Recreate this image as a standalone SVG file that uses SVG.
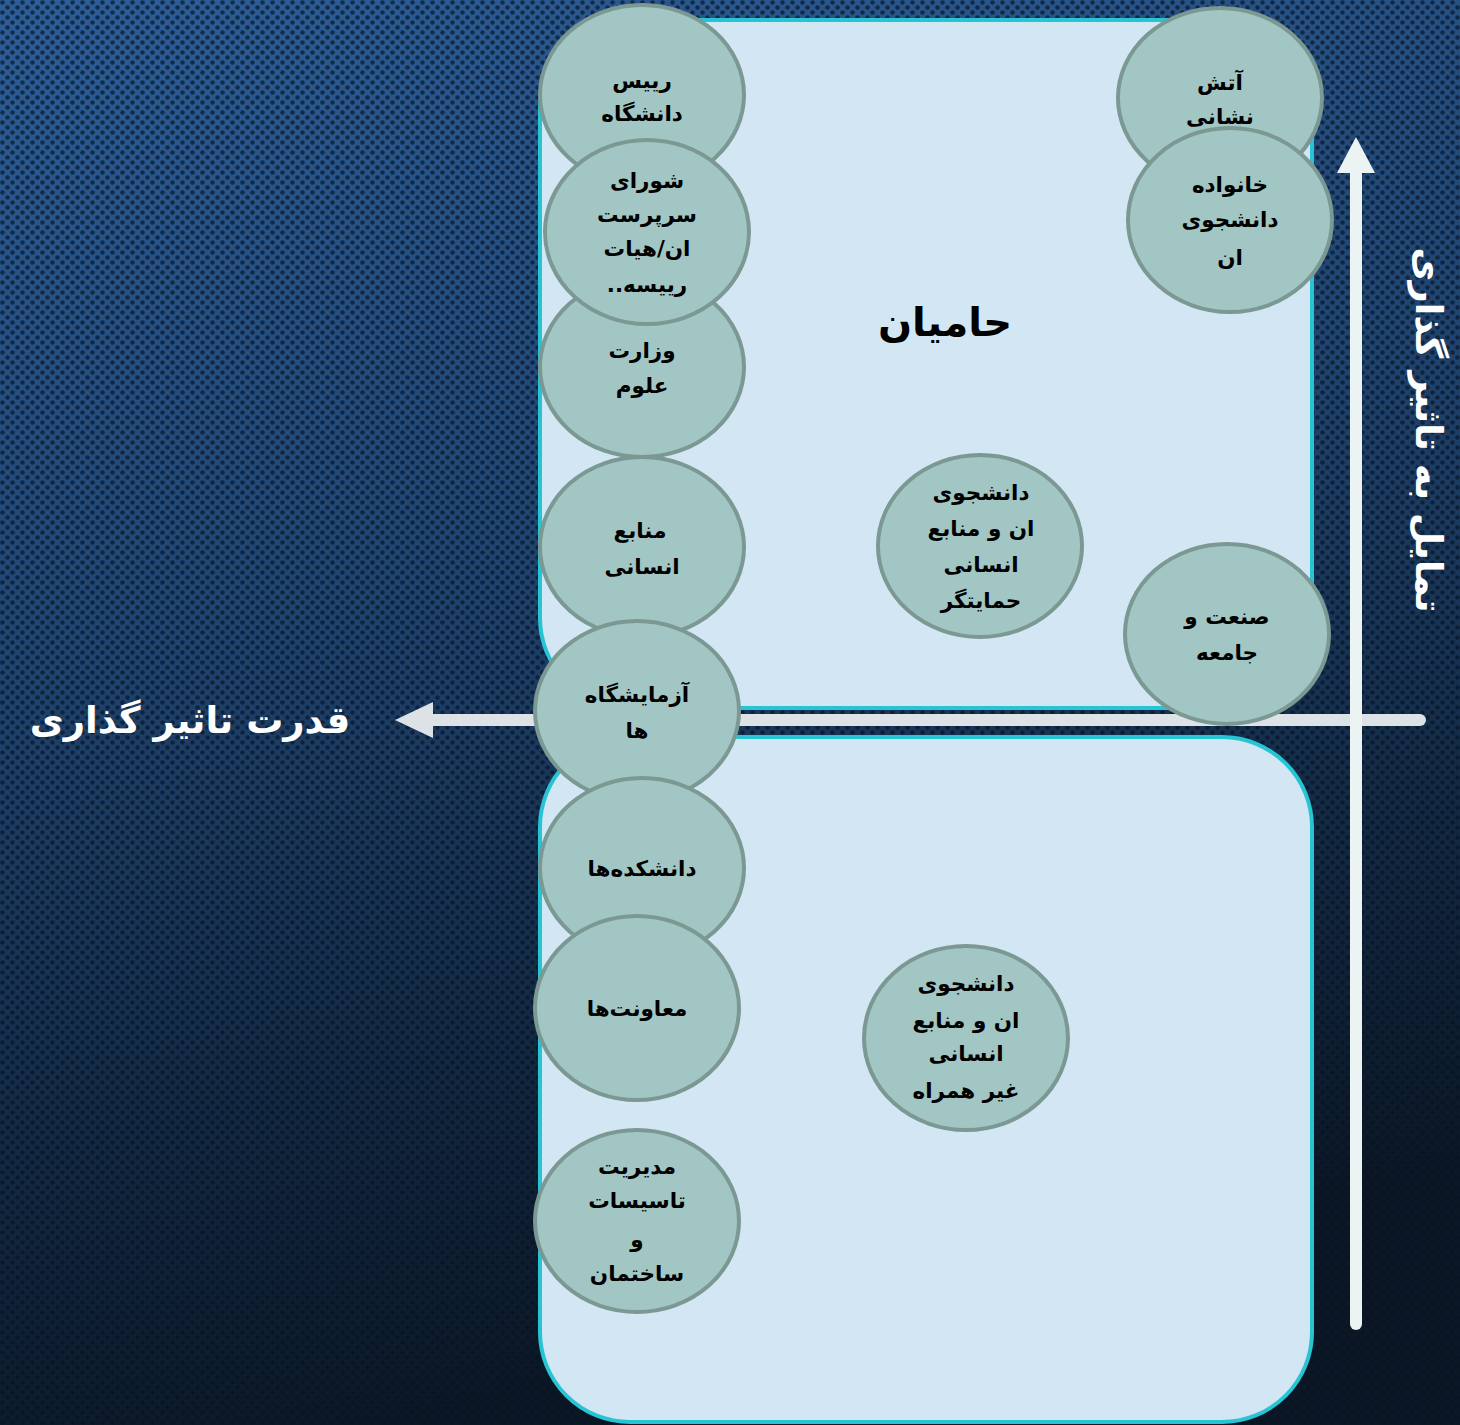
<svg xmlns="http://www.w3.org/2000/svg" width="1460" height="1425" viewBox="0 0 1460 1425">
  <defs>
    <linearGradient id="bg" x1="0" y1="0" x2="0.25" y2="1">
      <stop offset="0" stop-color="#2c5e98"/>
      <stop offset="0.45" stop-color="#1f4470"/>
      <stop offset="0.75" stop-color="#132a45"/>
      <stop offset="1" stop-color="#0b1725"/>
    </linearGradient>
    <pattern id="dots" width="10" height="10" patternUnits="userSpaceOnUse">
      <circle cx="2.5" cy="2.5" r="2.3" fill="#061224" fill-opacity="0.65"/>
      <circle cx="7.5" cy="7.5" r="2.3" fill="#061224" fill-opacity="0.65"/>
    </pattern>
    <style>
      .panel { fill: #d3e6f4; stroke: #27c4d4; stroke-width: 4; }
      .node { fill: #a2c6c4; stroke: #7b9893; stroke-width: 4; }
      .lbl { font-family: "DejaVu Sans", "Noto Sans", sans-serif; font-weight: bold; font-size: 21.5px; fill: #000; text-anchor: middle; }
      .title { font-family: "DejaVu Sans", "Noto Sans", sans-serif; font-weight: bold; font-size: 40px; fill: #000; text-anchor: middle; }
      .axis { font-family: "DejaVu Sans", "Noto Sans", sans-serif; font-weight: bold; font-size: 37px; fill: #ffffff; text-anchor: middle; }
    </style>
  </defs>

  <g id="background">
    <rect x="0" y="0" width="1460" height="1425" fill="url(#bg)"/>
    <rect x="0" y="0" width="1460" height="1425" fill="url(#dots)"/>
  </g>

  <g id="panel-top">
    <rect class="panel" x="540" y="20" width="772" height="688" rx="90" ry="90"/>
  </g>
  <g id="panel-bottom">
    <rect class="panel" x="540" y="737" width="772" height="685" rx="90" ry="90"/>
  </g>

  <g id="connectors">
    <line x1="1420" y1="720" x2="428" y2="720" stroke="#dde2e7" stroke-width="12" stroke-linecap="round"/>
    <polygon points="395,720 433,702 433,738" fill="#dde2e7"/>
    <line x1="1356" y1="1324" x2="1356" y2="168" stroke="#ecf3f3" stroke-width="12" stroke-linecap="round"/>
    <polygon points="1356,137 1337,173 1375,173" fill="#ecf3f3"/>
  </g>

  <g id="n-raees">
    <ellipse class="node" cx="642" cy="95" rx="102" ry="90"/>
    <text class="lbl" x="642" y="88">رییس</text>
    <text class="lbl" x="642" y="121">دانشگاه</text>
  </g>
  <g id="n-vezarat">
    <ellipse class="node" cx="642" cy="367" rx="102" ry="90"/>
    <text class="lbl" x="642" y="358">وزارت</text>
    <text class="lbl" x="642" y="393">علوم</text>
  </g>
  <g id="n-shora">
    <ellipse class="node" cx="647" cy="232" rx="102" ry="92"/>
    <text class="lbl" x="647" y="188">شورای</text>
    <text class="lbl" x="647" y="222">سرپرست</text>
    <text class="lbl" x="647" y="256" direction="rtl">ان/هیات</text>
    <text class="lbl" x="647" y="292" direction="rtl">رییسه..‏</text>
  </g>
  <g id="n-manabe">
    <ellipse class="node" cx="642" cy="547" rx="102" ry="90"/>
    <text class="lbl" x="640" y="538">منابع</text>
    <text class="lbl" x="642" y="574">انسانی</text>
  </g>
  <g id="n-azmayeshgah">
    <ellipse class="node" cx="637" cy="711" rx="102" ry="90"/>
    <text class="lbl" x="637" y="702">آزمایشگاه</text>
    <text class="lbl" x="637" y="738">ها</text>
  </g>
  <g id="n-daneshkade">
    <ellipse class="node" cx="642" cy="868" rx="102" ry="90"/>
    <text class="lbl" x="642" y="876">دانشکده‌ها</text>
  </g>
  <g id="n-moavenat">
    <ellipse class="node" cx="637" cy="1008" rx="102" ry="92"/>
    <text class="lbl" x="637" y="1016">معاونت‌ها</text>
  </g>
  <g id="n-modiriat">
    <ellipse class="node" cx="637" cy="1221" rx="102" ry="91"/>
    <text class="lbl" x="637" y="1174">مدیریت</text>
    <text class="lbl" x="637" y="1208">تاسیسات</text>
    <text class="lbl" x="637" y="1247">و</text>
    <text class="lbl" x="637" y="1281">ساختمان</text>
  </g>

  <g id="t-hamian">
    <text class="title" x="945" y="336">حامیان</text>
  </g>

  <g id="n-hemayatgar">
    <ellipse class="node" cx="980" cy="546" rx="102" ry="91"/>
    <text class="lbl" x="981" y="500">دانشجوی</text>
    <text class="lbl" x="981" y="536" direction="rtl">ان و منابع</text>
    <text class="lbl" x="981" y="572">انسانی</text>
    <text class="lbl" x="981" y="608">حمایتگر</text>
  </g>
  <g id="n-gheirhamrah">
    <ellipse class="node" cx="966" cy="1038" rx="102" ry="92"/>
    <text class="lbl" x="966" y="991">دانشجوی</text>
    <text class="lbl" x="966" y="1028" direction="rtl">ان و منابع</text>
    <text class="lbl" x="966" y="1061">انسانی</text>
    <text class="lbl" x="966" y="1098" direction="rtl">غیر همراه</text>
  </g>

  <g id="n-atashneshani">
    <ellipse class="node" cx="1220" cy="98" rx="102" ry="90"/>
    <text class="lbl" x="1220" y="90">آتش</text>
    <text class="lbl" x="1220" y="124">نشانی</text>
  </g>
  <g id="n-khanevade">
    <ellipse class="node" cx="1230" cy="220" rx="102" ry="92"/>
    <text class="lbl" x="1230" y="192">خانواده</text>
    <text class="lbl" x="1230" y="227">دانشجوی</text>
    <text class="lbl" x="1230" y="265">ان</text>
  </g>
  <g id="n-sanat">
    <ellipse class="node" cx="1227" cy="634" rx="102" ry="90"/>
    <text class="lbl" x="1227" y="624" direction="rtl">صنعت و</text>
    <text class="lbl" x="1227" y="660">جامعه</text>
  </g>

  <g id="axis-labels">
    <text class="axis" x="190" y="733" direction="rtl">قدرت تاثیر گذاری</text>
    <text class="axis" transform="translate(1416,430) rotate(90)" x="0" y="0" direction="rtl">تمایل به تاثیر گذاری</text>
  </g>
</svg>
